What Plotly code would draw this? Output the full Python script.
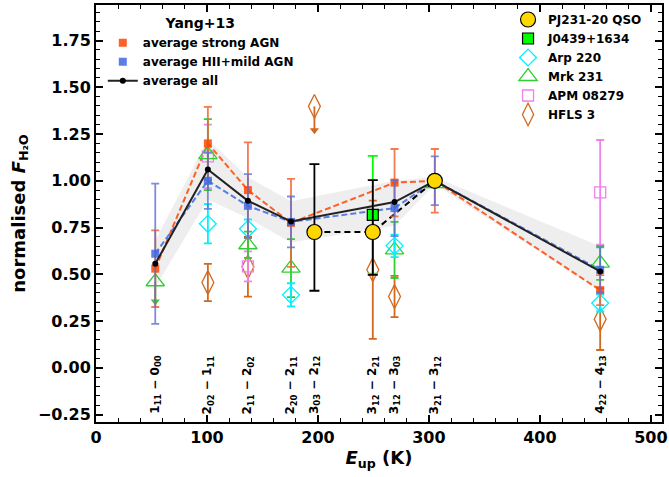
import plotly.graph_objects as go

# ---------------- data ----------------
# Yang+13 averages
x_avg = [53.4, 100.8, 136.9, 175.7, 269.0, 305.3, 454.3]
strong_agn = [0.53, 1.20, 0.95, 0.775, 0.99, 1.00, 0.415]
strong_agn_err = [0.205, 0.195, 0.255, 0.235, 0.18, 0.17, 0.08]
hii_agn = [0.61, 1.00, 0.866, 0.78, 0.854, 1.00, 0.524]
hii_agn_err = [0.375, 0.15, 0.17, 0.136, 0.15, 0.13, 0.12]
avg_all = [0.556, 1.06, 0.893, 0.782, 0.886, 1.00, 0.515]
band_lo = [0.43, 0.90, 0.80, 0.67, 0.76, 0.98, 0.41]
band_hi = [0.68, 1.22, 1.02, 0.89, 1.00, 1.02, 0.65]

# PJ231-20 QSO
pj_x = [196.8, 249.4, 305.3]
pj_y = [0.726, 0.726, 1.00]
pj_err_plus = [0.363, 0.278, 0.0]
pj_err_minus = [0.314, 0.229, 0.0]

# J0439+1634
j0439_x = [249.4]
j0439_y = [0.818]
j0439_err = [0.315]

# Arp 220
arp_x = [100.8, 136.9, 175.7, 269.0, 454.3]
arp_y = [0.77, 0.743, 0.39, 0.652, 0.346]
arp_err = [0.105, 0.05, 0.062, 0.06, 0.045]

# Mrk 231
mrk_x = [100.8, 136.9, 175.7, 269.0, 305.3, 454.3]
mrk_y = [1.14, 0.658, 0.533, 0.63, 0.985, 0.56]
mrk_err = [0.19, 0.07, 0.155, 0.15, 0.0, 0.09]
mrk_ul_x = [53.4]
mrk_ul_y = [0.46]
mrk_ul_tip = [0.355]

# APM 08279
apm_x = [100.8, 136.9, 454.3]
apm_y = [1.13, 0.542, 0.938]
apm_err = [0.17, 0.08, 0.28]

# HFLS 3
hfls_x = [100.8, 136.9, 249.4, 269.0, 454.3]
hfls_y = [0.456, 0.54, 0.524, 0.381, 0.26]
hfls_err = [0.10, 0.16, 0.37, 0.11, 0.165]
hfls_ul_x = [196.8]
hfls_ul_y = [1.398]
hfls_ul_tip = [1.27]

# transitions
trans_x = [53.4, 100.8, 136.9, 175.7, 196.8, 249.4, 269.0, 305.3, 454.3]
trans_labels = [
    "1<sub>11</sub> \u2212 0<sub>00</sub>",
    "2<sub>02</sub> \u2212 1<sub>11</sub>",
    "2<sub>11</sub> \u2212 2<sub>02</sub>",
    "2<sub>20</sub> \u2212 2<sub>11</sub>",
    "3<sub>03</sub> \u2212 2<sub>12</sub>",
    "3<sub>12</sub> \u2212 2<sub>21</sub>",
    "3<sub>12</sub> \u2212 3<sub>03</sub>",
    "3<sub>21</sub> \u2212 3<sub>12</sub>",
    "4<sub>22</sub> \u2212 4<sub>13</sub>",
]

y_ticks = [-0.25, 0.0, 0.25, 0.5, 0.75, 1.0, 1.25, 1.5, 1.75]
x_ticks = [0, 100, 200, 300, 400, 500]

# ---------------- styles ----------------
FONT = "DejaVu Sans"
C_ORANGE = "rgba(255,69,0,0.85)"
C_ORANGE_E = "rgba(240,100,50,0.85)"
C_BLUE = "rgba(65,105,225,0.85)"
C_BLUE_E = "rgba(95,110,210,0.8)"
C_CYAN = "#00f0ff"
C_GREEN = "#32cd32"
C_LIME = "#00ff00"
C_VIOLET = "#ee82ee"
C_CHOC = "#d2691e"

fig = go.Figure()

# shaded band
fig.add_trace(go.Scatter(x=x_avg, y=band_lo, mode="lines", line=dict(width=0),
                         showlegend=False, hoverinfo="skip"))
fig.add_trace(go.Scatter(x=x_avg, y=band_hi, mode="lines", line=dict(width=0),
                         fill="tonexty", fillcolor="rgba(200,200,200,0.3)",
                         showlegend=False, hoverinfo="skip"))

# average lines
fig.add_trace(go.Scatter(x=x_avg, y=strong_agn, mode="lines",
                         line=dict(color=C_ORANGE, width=2, dash="6px,3px"), showlegend=False))
fig.add_trace(go.Scatter(x=x_avg, y=hii_agn, mode="lines",
                         line=dict(color=C_BLUE, width=2, dash="6px,3px"), showlegend=False))
fig.add_trace(go.Scatter(x=pj_x, y=pj_y, mode="lines",
                         line=dict(color="black", width=2, dash="6px,4px"), showlegend=False))

# comparison sources
fig.add_trace(go.Scatter(x=hfls_x, y=hfls_y, mode="markers", name="HFLS 3", legend="legend2",
                         marker=dict(symbol="diamond-tall-open", size=17, color=C_CHOC,
                                     line=dict(width=1.3, color=C_CHOC)),
                         error_y=dict(type="data", array=hfls_err, color=C_CHOC, thickness=1.8, width=4),
                         legendrank=6))
fig.add_trace(go.Scatter(x=[hfls_ul_x[0], hfls_ul_x[0]], y=[hfls_ul_y[0], hfls_ul_tip[0]], mode="lines",
                         line=dict(color=C_CHOC, width=1.8), showlegend=False))
fig.add_trace(go.Scatter(x=hfls_ul_x, y=hfls_ul_tip, mode="markers", showlegend=False,
                         marker=dict(symbol="triangle-down", size=8, color=C_CHOC)))
fig.add_trace(go.Scatter(x=hfls_ul_x, y=hfls_ul_y, mode="markers", showlegend=False,
                         marker=dict(symbol="diamond-tall-open", size=17, color=C_CHOC,
                                     line=dict(width=1.3, color=C_CHOC))))

fig.add_trace(go.Scatter(x=apm_x, y=apm_y, mode="markers", name="APM 08279", legend="legend2",
                         marker=dict(symbol="square-open", size=11, color=C_VIOLET,
                                     line=dict(width=1.3, color=C_VIOLET)),
                         error_y=dict(type="data", array=apm_err, color=C_VIOLET, thickness=1.8, width=4),
                         legendrank=5))

fig.add_trace(go.Scatter(x=mrk_x, y=mrk_y, mode="markers", name="Mrk 231", legend="legend2",
                         marker=dict(symbol="triangle-up-open", size=16, color=C_GREEN,
                                     line=dict(width=1.3, color=C_GREEN)),
                         error_y=dict(type="data", array=mrk_err, color=C_GREEN, thickness=1.8, width=4),
                         legendrank=4))
fig.add_trace(go.Scatter(x=[mrk_ul_x[0], mrk_ul_x[0]], y=[mrk_ul_y[0], mrk_ul_tip[0]], mode="lines",
                         line=dict(color=C_GREEN, width=1.8), showlegend=False))
fig.add_trace(go.Scatter(x=mrk_ul_x, y=mrk_ul_tip, mode="markers", showlegend=False,
                         marker=dict(symbol="triangle-down", size=8, color=C_GREEN)))
fig.add_trace(go.Scatter(x=mrk_ul_x, y=mrk_ul_y, mode="markers", showlegend=False,
                         marker=dict(symbol="triangle-up-open", size=16, color=C_GREEN,
                                     line=dict(width=1.3, color=C_GREEN))))

fig.add_trace(go.Scatter(x=arp_x, y=arp_y, mode="markers", name="Arp 220", legend="legend2",
                         marker=dict(symbol="diamond-open", size=13, color=C_CYAN,
                                     line=dict(width=1.3, color=C_CYAN)),
                         error_y=dict(type="data", array=arp_err, color=C_CYAN, thickness=1.8, width=4),
                         legendrank=3))

# averages markers
fig.add_trace(go.Scatter(x=x_avg, y=strong_agn, mode="markers", name="average strong AGN",
                         marker=dict(symbol="square", size=8, color=C_ORANGE),
                         error_y=dict(type="data", array=strong_agn_err, color=C_ORANGE_E,
                                      thickness=1.8, width=4),
                         legendrank=1))
fig.add_trace(go.Scatter(x=x_avg, y=hii_agn, mode="markers", name="average HII+mild AGN",
                         marker=dict(symbol="square", size=8, color=C_BLUE),
                         error_y=dict(type="data", array=hii_agn_err, color=C_BLUE_E,
                                      thickness=1.8, width=4),
                         legendrank=2))
fig.add_trace(go.Scatter(x=x_avg, y=avg_all, mode="lines+markers", name="average all",
                         line=dict(color="#222222", width=2),
                         marker=dict(symbol="circle", size=6, color="black"),
                         legendrank=3))

fig.add_trace(go.Scatter(x=j0439_x, y=j0439_y, mode="markers", name="J0439+1634", legend="legend2",
                         marker=dict(symbol="square", size=11, color=C_LIME,
                                     line=dict(width=1.2, color="black")),
                         error_y=dict(type="data", array=j0439_err, color=C_LIME, thickness=1.8, width=5),
                         legendrank=2))

fig.add_trace(go.Scatter(x=pj_x, y=pj_y, mode="markers", name="PJ231-20 QSO", legend="legend2",
                         marker=dict(symbol="circle", size=15, color="#ffd700",
                                     line=dict(width=1.2, color="black")),
                         error_y=dict(type="data", array=pj_err_plus, arrayminus=pj_err_minus,
                                      color="black", thickness=1.8, width=5),
                         legendrank=1))

for xv, lab in zip(trans_x, trans_labels):
    fig.add_annotation(x=xv, y=-0.09, text=lab, textangle=-90, showarrow=False,
                       xanchor="center", yanchor="middle",
                       font=dict(family=FONT, size=12, color="black", weight="bold"))

axis_common = dict(showgrid=False, zeroline=False, showline=True, linecolor="black",
                   linewidth=2, mirror="allticks", ticks="inside", ticklen=7, tickwidth=1.5,
                   tickcolor="black", automargin=False,
                   tickfont=dict(family=FONT, size=16, color="black", weight="bold"))

fig.update_layout(
    width=669, height=477,
    margin=dict(l=96, r=7, t=5, b=55),
    paper_bgcolor="white", plot_bgcolor="white",
    font=dict(family=FONT, color="black"),
    xaxis=dict(range=[0, 510], tickvals=x_ticks,
               minor=dict(ticks="inside", ticklen=4, tickwidth=1.2, dtick=20, tickcolor="black"),
               title=dict(text="<i>E</i><sub>up</sub> (K)", standoff=2,
                          font=dict(family=FONT, size=18, color="black", weight="bold")),
               **axis_common),
    yaxis=dict(range=[-0.29, 1.94], tickvals=y_ticks, tickformat=".2f",
               minor=dict(ticks="inside", ticklen=4, tickwidth=1.2, dtick=0.05, tick0=0,
                          tickcolor="black"),
               title=dict(text="normalised <i>F</i><sub>H\u2082O</sub>", standoff=8,
                          font=dict(family=FONT, size=18, color="black", weight="bold")),
               **axis_common),
    legend=dict(x=0.012, y=0.988, xanchor="left", yanchor="top", bgcolor="rgba(0,0,0,0)",
                tracegroupgap=0, itemwidth=30, traceorder="normal",
                font=dict(family=FONT, size=12, color="black", weight="bold"),
                title=dict(text="Yang+13", side="top center",
                           font=dict(family=FONT, size=14, color="black", weight="bold"))),
    legend2=dict(x=0.728, y=1.0, xanchor="left", yanchor="top", bgcolor="rgba(0,0,0,0)",
                 tracegroupgap=0, itemwidth=30, traceorder="normal",
                 font=dict(family=FONT, size=12, color="black", weight="bold")),
)

fig.write_html("out.html", config={"displayModeBar": False},
               post_script="document.body.style.margin='0';")
